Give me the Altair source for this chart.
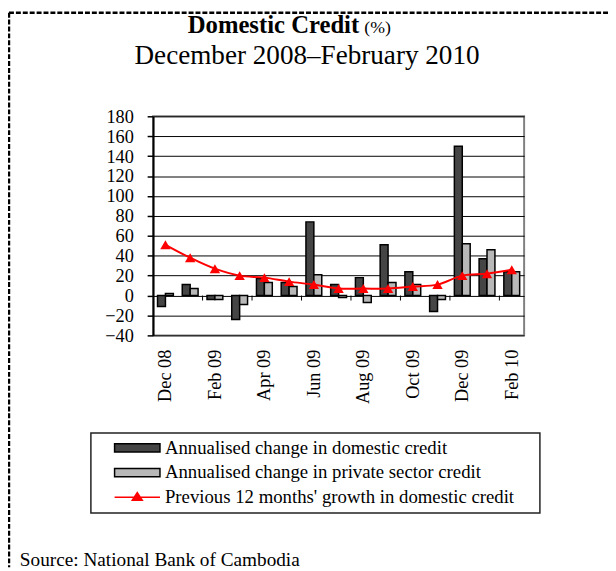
import altair as alt
import pandas as pd

# ---------------- data ----------------
months = ["Dec 08", "Jan 09", "Feb 09", "Mar 09", "Apr 09", "May 09", "Jun 09", "Jul 09",
          "Aug 09", "Sep 09", "Oct 09", "Nov 09", "Dec 09", "Jan 10", "Feb 10"]
domestic = [-11, 11, -4, -24, 17, 13, 74, 11, 18, 51, 24, -16, 150, 37, 24]
private = [2, 7, -4, -9, 13, 9, 21, -2, -7, 13, 11, -4, 52, 46, 24]
growth = [51, 38, 27, 20, 18, 14, 11, 7, 7, 7, 9, 11, 20, 22, 26]

S_DOM = "Annualised change in domestic credit"
S_PRIV = "Annualised change in private sector credit"
S_GROW = "Previous 12 months' growth in domestic credit"
series_names = [S_DOM, S_PRIV, S_GROW]

TITLE = "Domestic Credit"
TITLE_UNIT = "(%)"
SUBTITLE = "December 2008\u2013February 2010"
SOURCE = "Source: National Bank of Cambodia"

y_ticks = [-40, -20, 0, 20, 40, 60, 80, 100, 120, 140, 160, 180]
x_labels = months[::2]
tick_months = months[2::2]

# ---------------- tables ----------------
bars_df = pd.DataFrame({
    "month": months * 2,
    "series": [S_DOM] * len(months) + [S_PRIV] * len(months),
    "value": domestic + private,
})
line_df = pd.DataFrame({"month": months, "series": [S_GROW] * len(months), "value": growth})
ticks_df = pd.DataFrame({"month": tick_months})

FONT = "Liberation Serif"

x_scale = alt.Scale(domain=months, paddingInner=0.36, paddingOuter=0.18)
y_scale = alt.Scale(domain=[-40, 180], nice=False)

color_scale = alt.Scale(domain=series_names, range=["#454545", "#b8b8b8", "#ff0000"])
stroke_scale = alt.Scale(domain=series_names, range=["#000000", "#000000", "#ff0000"])
RECT = "M-1,-0.18H1V0.18H-1Z"
LINE_TRI = "M-1,0H1M-0.22,0.13L0,-0.2L0.22,0.13Z"
shape_scale = alt.Scale(domain=series_names, range=[RECT, RECT, LINE_TRI])

x_axis = alt.Axis(values=x_labels, labelAngle=-90, ticks=False, domain=False, labelPadding=14,
                  labelFont=FONT, labelFontSize=18.5, labelColor="black", title=None, grid=False,
                  labelOverlap=False)
y_axis = alt.Axis(values=y_ticks, tickSize=6, labelPadding=14, labelFont=FONT, labelFontSize=18.5,
                  labelColor="black", domainColor="black", domainWidth=2, tickColor="black",
                  tickWidth=1.5, gridColor="black", gridWidth=1, title=None, labelOverlap=False,
                  labelFlush=False)

X = alt.X("month:N", sort=months, scale=x_scale, axis=x_axis)
Y = alt.Y("value:Q", scale=y_scale, axis=y_axis)

leg = alt.Legend(title=None, orient="none", legendX=-64, legendY=324, direction="vertical",
                 symbolSize=2116, symbolStrokeWidth=1.5, symbolOpacity=1, clipHeight=14,
                 rowPadding=6, padding=5, symbolOffset=19, labelOffset=4, labelFont=FONT,
                 labelFontSize=19, labelColor="black", labelLimit=600)

# invisible layer that only feeds the legend (first, so its legend encoding is kept)
legend_layer = alt.Chart(line_df).mark_point(filled=True).encode(
    x=X, y=Y,
    color=alt.Color("series:N", scale=color_scale, legend=leg),
    stroke=alt.Stroke("series:N", scale=stroke_scale, legend=leg),
    shape=alt.Shape("series:N", scale=shape_scale, legend=leg),
    opacity=alt.value(0),
)

bars = alt.Chart(bars_df).mark_bar(stroke="black", strokeWidth=1.5).encode(
    x=X, y=Y,
    xOffset=alt.XOffset("series:N", sort=[S_DOM, S_PRIV]),
    color=alt.Color("series:N", scale=color_scale, legend=leg),
)

ticks = alt.Chart(ticks_df).mark_rule(color="black", strokeWidth=1, xOffset=-4.5).encode(
    x=alt.X("month:N", sort=months, scale=x_scale, axis=x_axis, bandPosition=0),
    y=alt.YDatum(0, scale=y_scale, axis=y_axis),
    y2=alt.Y2Datum(-5),
)

line = alt.Chart(line_df).mark_line(color="#ff0000", strokeWidth=2, interpolate="catmull-rom").encode(x=X, y=Y)
pts = alt.Chart(line_df).mark_point(shape="triangle-up", filled=True, color="#ff0000", size=110, opacity=1).encode(x=X, y=Y)


def text_layer(txt, x, y, size, weight="normal", align="left"):
    return alt.Chart(alt.Data(values=[{"t": txt}])).mark_text(
        font=FONT, fontSize=size, fontWeight=weight, align=align, baseline="alphabetic", color="black"
    ).encode(text="t:N", x=alt.value(x), y=alt.value(y))


title1 = text_layer(TITLE, 122, -84, 25, "bold", align="center")
title2 = text_layer(TITLE_UNIT, 214, -84, 18)
subtitle = text_layer(SUBTITLE, 156, -53, 27.5, align="center")
source = text_layer(SOURCE, -135, 456, 19.5)

blank = alt.Data(values=[{}])
border_top = alt.Chart(blank).mark_rule(strokeDash=[5, 2], strokeWidth=2.5, color="black").encode(
    x=alt.value(-146), x2=alt.value(461), y=alt.value(-105))
border_left = alt.Chart(blank).mark_rule(strokeDash=[5, 2], strokeWidth=2.5, color="black").encode(
    x=alt.value(-146), y=alt.value(-105), y2=alt.value(457))
legend_frame = alt.Chart(blank).mark_rect(fill=None, stroke="#222222", strokeWidth=1.5).encode(
    x=alt.value(-63), x2=alt.value(392), y=alt.value(321), y2=alt.value(402))

chart = alt.layer(
    legend_layer, border_top, border_left, legend_frame, bars, ticks, line, pts,
    title1, title2, subtitle, source
).properties(
    width=376, height=222,
    autosize=alt.AutoSizeParams(type="none"),
    padding={"left": 147, "top": 106, "right": 85, "bottom": 235},
).configure(font=FONT).configure_view(stroke="#808080", strokeWidth=2)

chart.save("out.html", embed_options={"renderer": "svg", "actions": False})
